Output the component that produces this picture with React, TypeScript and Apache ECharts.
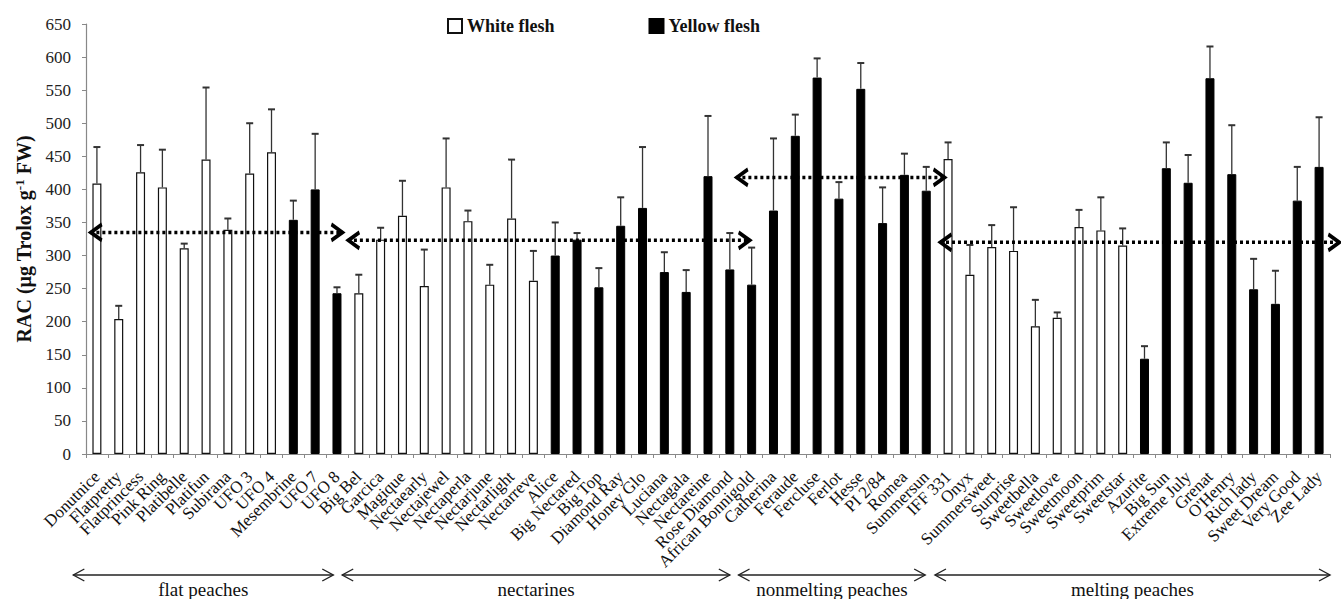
import React, { useEffect, useRef } from "react";
import * as echarts from "echarts";

const categories = [
  "Donutnice", "Flatpretty", "Flatprincess", "Pink Ring", "Platibelle", "Platifun", "Subirana", "UFO 3", "UFO 4", "Mesembrine", "UFO 7", "UFO 8",
  "Big Bel", "Garcica", "Magique", "Nectaearly", "Nectajewel", "Nectaperla", "Nectarjune", "Nectarlight", "Nectarreve", "Alice", "Big Nectared", "Big Top", "Diamond Ray", "Honey Glo", "Luciana", "Nectagala", "Nectareine", "Rose Diamond", "African Bonnigold",
  "Catherina", "Feraude", "Fercluse", "Ferlot", "Hesse", "PI 2/84", "Romea", "Summersun",
  "IFF 331", "Onyx", "Summersweet", "Surprise", "Sweetbella", "Sweetlove", "Sweetmoon", "Sweetprim", "Sweetstar", "Azurite", "Big Sun", "Extreme July", "Grenat", "O'Henry", "Rich lady", "Sweet Dream", "Very Good", "Zee Lady",
];

// W = white flesh, Y = yellow flesh
const flesh = [
  "W", "W", "W", "W", "W", "W", "W", "W", "W", "Y", "Y", "Y",
  "W", "W", "W", "W", "W", "W", "W", "W", "W", "Y", "Y", "Y", "Y", "Y", "Y", "Y", "Y", "Y", "Y",
  "Y", "Y", "Y", "Y", "Y", "Y", "Y", "Y",
  "W", "W", "W", "W", "W", "W", "W", "W", "W", "Y", "Y", "Y", "Y", "Y", "Y", "Y", "Y", "Y",
];

const racValues = [
  409, 204, 426, 403, 311, 445, 339, 424, 456, 354, 400, 243,
  243, 324, 360, 254, 403, 352, 256, 356, 262, 300, 324, 252, 345, 372, 275, 245, 420, 279, 256,
  368, 481, 569, 386, 552, 349, 422, 398,
  446, 271, 313, 307, 193, 206, 343, 338, 315, 144, 432, 410, 568, 423, 249, 227, 383, 434,
];

const errorUpper = [
  464, 224, 467, 460, 318, 554, 356, 500, 521, 383, 484, 252,
  271, 342, 413, 309, 477, 368, 286, 445, 307, 350, 334, 281, 388, 464, 305, 278, 511, 334, 312,
  477, 513, 598, 411, 591, 403, 454, 434,
  471, 316, 346, 373, 233, 214, 369, 388, 341, 163, 471, 452, 616, 497, 295, 277, 434, 509,
];

const yTicks = [0, 650, 50]; // min, max, interval

// group mean lines: [start slot, end slot, mean value]
const meanStart = [0.2, 12.0, 29.8, 39.13];
const meanEnd = [11.77, 30.43, 39.36, 57.45];
const meanValue = [335, 323, 418, 320];

// group brackets below axis (slot units)
const groupNames = ["flat peaches", "nectarines", "nonmelting peaches", "melting peaches"];
const groupStart = [-0.58, 11.74, 29.9, 38.9];
const groupEnd = [11.33, 29.5, 38.45, 57.0];

const FONT = "Liberation Serif, Times New Roman, serif";
const chevron = "path://M0,0L10,7L0,14";

export default function App() {
  const ref = useRef<HTMLDivElement>(null);

  useEffect(() => {
    document.body.style.margin = "0";
    if (!ref.current) return;
    const chart = echarts.init(ref.current, undefined, { renderer: "svg" });

    const whiteData = racValues.map((v, i) => (flesh[i] === "W" ? v : "-"));
    const yellowData = racValues.map((v, i) => (flesh[i] === "Y" ? v : "-"));
    const errData = racValues.map((v, i) => [i, errorUpper[i], v]);

    const meanSeries = meanValue.map((m, g) => ({
      type: "line",
      xAxisIndex: 1,
      yAxisIndex: 0,
      clip: false,
      silent: true,
      z: 5,
      data: [
        { value: [meanStart[g], m], symbolRotate: 180, symbolOffset: [6, 0] },
        { value: [meanEnd[g], m], symbolRotate: 0, symbolOffset: [-6, 0] },
      ],
      symbol: chevron,
      symbolSize: [11, 16],
      lineStyle: { color: "#000", width: 3.5, type: [3, 3] },
      itemStyle: { color: "rgba(0,0,0,0)", borderColor: "#000", borderWidth: 3.5 },
    }));

    const option: any = {
      animation: false,
      backgroundColor: "#fff",
      grid: { left: 86, right: 11, top: 24, bottom: 145 },
      legend: {
        top: 12,
        left: 442,
        itemWidth: 14,
        itemHeight: 14,
        itemGap: 94,
        icon: "rect",
        data: ["White flesh", "Yellow flesh"],
        textStyle: { fontFamily: FONT, fontWeight: "bold", fontSize: 18, color: "#111" },
      },
      xAxis: [
        {
          type: "category",
          data: categories,
          axisLine: { lineStyle: { color: "#888", width: 1.2 } },
          axisTick: { show: true, interval: 0, length: 4, lineStyle: { color: "#888" } },
          axisLabel: {
            interval: 0,
            rotate: 45,
            margin: 20,
            fontFamily: FONT,
            fontSize: 17,
            color: "#111",
          },
        },
        { type: "value", min: 0, max: categories.length, show: false },
      ],
      yAxis: {
        type: "value",
        min: yTicks[0],
        max: yTicks[1],
        interval: yTicks[2],
        name: "RAC (µg Trolox g{sup|-1} FW)",
        nameLocation: "middle",
        nameGap: 52,
        nameRotate: 90,
        nameTextStyle: {
          fontFamily: FONT,
          fontWeight: "bold",
          fontSize: 20,
          color: "#111",
          rich: {
            sup: { fontFamily: FONT, fontWeight: "bold", fontSize: 13, verticalAlign: "top", padding: [0, 0, 8, 0] },
          },
        },
        axisLine: { show: true, lineStyle: { color: "#888", width: 1.2 } },
        axisTick: { show: true, length: 4, lineStyle: { color: "#888" } },
        splitLine: { show: false },
        axisLabel: { fontFamily: FONT, fontSize: 17, color: "#222", margin: 15 },
      },
      series: [
        {
          name: "White flesh",
          type: "bar",
          data: whiteData,
          barWidth: 9,
          barGap: "-100%",
          itemStyle: { color: "#fff", borderColor: "#111", borderWidth: 1.2 },
        },
        {
          name: "Yellow flesh",
          type: "bar",
          data: yellowData,
          barWidth: 9,
          barGap: "-100%",
          itemStyle: { color: "#000", borderColor: "#000", borderWidth: 1 },
        },
        {
          type: "custom",
          silent: true,
          z: 3,
          data: errData,
          encode: { x: 0, y: [1, 2] },
          renderItem: (params: any, api: any) => {
            const i = api.value(0);
            const top = api.coord([i, api.value(1)]);
            const base = api.coord([i, api.value(2)]);
            const style = { stroke: "#333", lineWidth: 1.3 };
            return {
              type: "group",
              children: [
                { type: "line", shape: { x1: top[0], y1: top[1], x2: base[0], y2: base[1] }, style },
                { type: "line", shape: { x1: top[0] - 3.5, y1: top[1], x2: top[0] + 3.5, y2: top[1] }, style: { stroke: "#333", lineWidth: 2 } },
              ],
            };
          },
        },
        ...meanSeries,
      ],
    };

    chart.setOption(option);

    // group brackets under the axis labels
    const yLine = 575;
    const graphics: any[] = [];
    groupNames.forEach((name, g) => {
      const x0 = chart.convertToPixel({ xAxisIndex: 1 }, groupStart[g]) as number;
      const x1 = chart.convertToPixel({ xAxisIndex: 1 }, groupEnd[g]) as number;
      const st = { stroke: "#222", lineWidth: 1.4, fill: "none" };
      graphics.push({ type: "line", shape: { x1: x0, y1: yLine, x2: x1, y2: yLine }, style: st });
      graphics.push({ type: "polyline", shape: { points: [[x0 + 11, yLine - 6], [x0, yLine], [x0 + 11, yLine + 6]] }, style: st });
      graphics.push({ type: "polyline", shape: { points: [[x1 - 11, yLine - 6], [x1, yLine], [x1 - 11, yLine + 6]] }, style: st });
      graphics.push({
        type: "text",
        x: (x0 + x1) / 2,
        y: yLine + 14,
        style: { text: name, fontFamily: FONT, fontSize: 19, fill: "#111", align: "center", verticalAlign: "middle" },
      });
    });
    chart.setOption({ graphic: graphics });

    return () => chart.dispose();
  }, []);

  return <div ref={ref} style={{ width: 1341, height: 599 }} />;
}
